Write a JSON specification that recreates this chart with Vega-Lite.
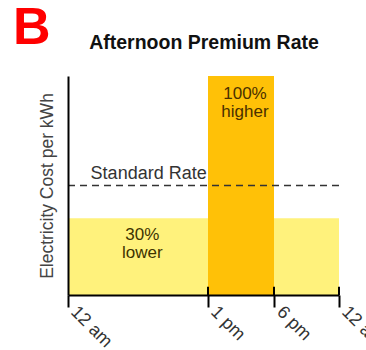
{
  "$schema": "https://vega.github.io/schema/vega-lite/v6.json",
  "width": 271,
  "height": 219,
  "autosize": {"type": "none"},
  "padding": {"left": 68, "top": 76, "right": 27, "bottom": 55},
  "background": "white",
  "title": {"text": "B", "anchor": "start", "frame": "group", "fontSize": 52, "fontWeight": "bold", "color": "#ff0000", "font": "Liberation Sans", "dx": -55, "dy": 27},
  "config": {"view": {"stroke": null}, "font": "Liberation Sans"},
  "datasets": {
    "segments": [
      {"period": "Morning", "start": 0, "end": 13, "rate": 0.7, "kind": "lower"},
      {"period": "Afternoon", "start": 13, "end": 18, "rate": 2, "kind": "higher"},
      {"period": "Evening", "start": 18, "end": 24, "rate": 0.7, "kind": "lower"}
    ],
    "standard": [{"label": "Standard Rate", "rate": 1, "start": 0, "end": 24}],
    "ticks": [{"hour": 13}, {"hour": 18}, {"hour": 24}]
  },
  "resolve": {"axis": {"x": "independent"}},
  "layer": [
    {
      "data": {"name": "segments"},
      "mark": {"type": "rect"},
      "encoding": {
        "x": {"field": "start", "type": "quantitative",
          "scale": {"type": "linear", "domain": [0, 13, 18, 24], "range": [0, 140, 206, 271], "nice": false, "zero": false},
          "axis": {"values": [0, 13, 18, 24], "labelExpr": "datum.value == 13 ? '1 pm' : (datum.value == 18 ? '6 pm' : '12 am')", "title": null, "grid": false, "domainColor": "#000", "domainWidth": 2, "tickColor": "#000", "tickWidth": 2, "tickSize": 12, "labelAngle": 45, "labelAlign": "left", "labelBaseline": "middle", "labelOffset": 5, "labelFontSize": 18, "labelColor": "#333", "labelPadding": 2, "labelBound": false, "labelOverlap": false, "zindex": 2}},
        "x2": {"field": "end"},
        "y": {"field": "rate", "type": "quantitative", "scale": {"domain": [0, 2], "nice": false},
          "axis": {"title": "Electricity Cost per kWh", "labels": false, "ticks": false, "grid": false, "domainColor": "#000", "domainWidth": 2, "titleFontSize": 17.5, "titleFontWeight": "normal", "titleColor": "#444", "titlePadding": 12, "zindex": 2}},
        "y2": {"datum": 0},
        "color": {"field": "kind", "type": "nominal", "scale": {"domain": ["lower", "higher"], "range": ["#fff27c", "#ffc107"]}, "legend": null}
      }
    },
    {
      "data": {"name": "standard"},
      "mark": {"type": "rule", "color": "#333", "strokeDash": [7, 5], "strokeWidth": 1.3},
      "encoding": {
        "x": {"field": "start", "type": "quantitative",
          "axis": {"orient": "top", "title": "Afternoon Premium Rate", "labels": false, "ticks": false, "domain": false, "grid": false, "titleFontSize": 19.5, "titleFontWeight": "bold", "titleColor": "#111", "titleY": -28, "titleBaseline": "alphabetic"}},
        "x2": {"field": "end"},
        "y": {"field": "rate", "type": "quantitative"}
      }
    },
    {
      "data": {"name": "standard"},
      "mark": {"type": "text", "align": "left", "baseline": "alphabetic", "dy": -7, "fontSize": 18, "color": "#333"},
      "encoding": {
        "x": {"datum": 2.1, "type": "quantitative", "axis": null},
        "y": {"field": "rate", "type": "quantitative"},
        "text": {"field": "label"}
      }
    },
    {
      "data": {"values": [{"note": ["30%", "lower"]}]},
      "mark": {"type": "text", "align": "center", "baseline": "alphabetic", "dy": 22, "fontSize": 17, "lineHeight": 18, "color": "#3d3300"},
      "encoding": {
        "x": {"datum": 6.9, "type": "quantitative", "axis": null},
        "y": {"datum": 0.7, "type": "quantitative"},
        "text": {"field": "note"}
      }
    },
    {
      "data": {"values": [{"note": ["100%", "higher"]}]},
      "mark": {"type": "text", "align": "center", "baseline": "alphabetic", "dy": 23, "fontSize": 17, "lineHeight": 18, "color": "#4a3000"},
      "encoding": {
        "x": {"datum": 15.8, "type": "quantitative", "axis": null},
        "y": {"datum": 2, "type": "quantitative"},
        "text": {"field": "note"}
      }
    },
    {
      "data": {"name": "ticks"},
      "mark": {"type": "rule", "color": "#000", "strokeWidth": 2},
      "encoding": {
        "x": {"field": "hour", "type": "quantitative", "axis": null},
        "y": {"datum": 0, "type": "quantitative"},
        "y2": {"datum": 0.075}
      }
    }
  ]
}
